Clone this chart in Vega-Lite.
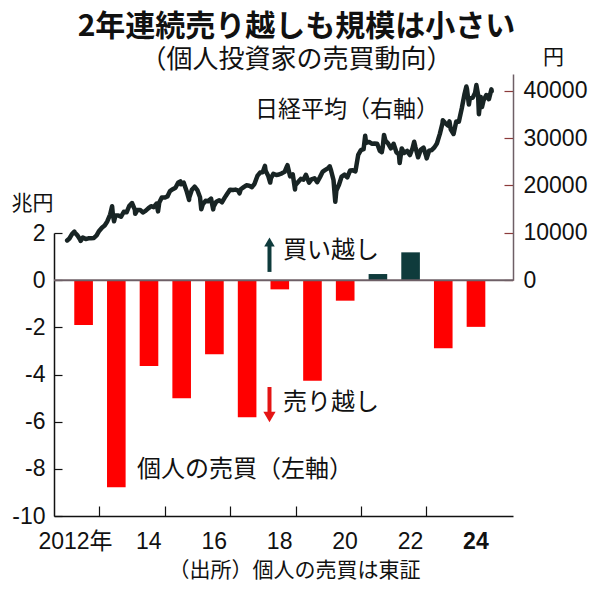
{
  "$schema": "https://vega.github.io/schema/vega-lite/v6.json",
  "width": 459,
  "height": 442,
  "autosize": {"type": "none"},
  "padding": {"left": 54, "top": 74, "right": 87, "bottom": 78},
  "background": "white",
  "config": {"view": {"stroke": null}, "font": "Noto Sans CJK JP", "axisX": {"labelOverlap": false}},
  "title": {
    "text": "2年連続売り越しも規模は小さい",
    "subtitle": "（個人投資家の売買動向）",
    "anchor": "middle",
    "frame": "group",
    "font": "Noto Sans CJK JP",
    "fontSize": 30,
    "fontWeight": "bold",
    "color": "#111111",
    "subtitleFont": "Noto Sans CJK JP",
    "subtitleFontSize": 26,
    "subtitleColor": "#111111",
    "subtitlePadding": 5,
    "offset": -27,
    "dx": 13
  },
  "datasets": {
    "flows": [
      {"year": "2012", "value": -1.90},
      {"year": "2013", "value": -8.78},
      {"year": "2014", "value": -3.64},
      {"year": "2015", "value": -5.01},
      {"year": "2016", "value": -3.14},
      {"year": "2017", "value": -5.81},
      {"year": "2018", "value": -0.39},
      {"year": "2019", "value": -4.27},
      {"year": "2020", "value": -0.87},
      {"year": "2021", "value": 0.26},
      {"year": "2022", "value": 1.18},
      {"year": "2023", "value": -2.89},
      {"year": "2024", "value": -1.98}
    ],
    "nikkei": [
      {"d": "2012-01-06", "n": 8390}, {"d": "2012-01-31", "n": 8803}, {"d": "2012-02-29", "n": 9723}, {"d": "2012-03-27", "n": 10255}, {"d": "2012-03-30", "n": 10084}, {"d": "2012-04-27", "n": 9521}, {"d": "2012-05-31", "n": 8543}, {"d": "2012-06-04", "n": 8296}, {"d": "2012-06-29", "n": 9007}, {"d": "2012-07-31", "n": 8695}, {"d": "2012-08-31", "n": 8840}, {"d": "2012-09-28", "n": 8870}, {"d": "2012-10-31", "n": 8928}, {"d": "2012-11-30", "n": 9446}, {"d": "2012-12-28", "n": 10395},
      {"d": "2013-01-31", "n": 11139}, {"d": "2013-02-28", "n": 11559}, {"d": "2013-03-29", "n": 12398}, {"d": "2013-04-30", "n": 13861}, {"d": "2013-05-22", "n": 15627}, {"d": "2013-05-31", "n": 13775}, {"d": "2013-06-13", "n": 12445}, {"d": "2013-06-28", "n": 13677}, {"d": "2013-07-31", "n": 13668}, {"d": "2013-08-30", "n": 13389}, {"d": "2013-09-30", "n": 14456}, {"d": "2013-10-31", "n": 14328}, {"d": "2013-11-29", "n": 15662}, {"d": "2013-12-30", "n": 16291},
      {"d": "2014-01-31", "n": 14915}, {"d": "2014-02-04", "n": 14009}, {"d": "2014-02-28", "n": 14841}, {"d": "2014-03-31", "n": 14828}, {"d": "2014-04-30", "n": 14304}, {"d": "2014-05-30", "n": 14632}, {"d": "2014-06-30", "n": 15162}, {"d": "2014-07-31", "n": 15621}, {"d": "2014-08-29", "n": 15425}, {"d": "2014-09-30", "n": 16174}, {"d": "2014-10-17", "n": 14532}, {"d": "2014-10-31", "n": 16414}, {"d": "2014-11-28", "n": 17460}, {"d": "2014-12-30", "n": 17451},
      {"d": "2015-01-30", "n": 17674}, {"d": "2015-02-27", "n": 18798}, {"d": "2015-03-31", "n": 19207}, {"d": "2015-04-30", "n": 19520}, {"d": "2015-05-29", "n": 20563}, {"d": "2015-06-24", "n": 20868}, {"d": "2015-06-30", "n": 20236}, {"d": "2015-07-31", "n": 20585}, {"d": "2015-08-31", "n": 18890}, {"d": "2015-09-29", "n": 16930}, {"d": "2015-09-30", "n": 17388}, {"d": "2015-10-30", "n": 19083}, {"d": "2015-11-30", "n": 19747}, {"d": "2015-12-30", "n": 19034},
      {"d": "2016-01-29", "n": 17518}, {"d": "2016-02-12", "n": 14952}, {"d": "2016-02-29", "n": 16027}, {"d": "2016-03-31", "n": 16759}, {"d": "2016-04-29", "n": 16666}, {"d": "2016-05-31", "n": 17235}, {"d": "2016-06-24", "n": 14952}, {"d": "2016-06-30", "n": 15576}, {"d": "2016-07-29", "n": 16569}, {"d": "2016-08-31", "n": 16887}, {"d": "2016-09-30", "n": 16450}, {"d": "2016-10-31", "n": 17425}, {"d": "2016-11-30", "n": 18308}, {"d": "2016-12-30", "n": 19114},
      {"d": "2017-01-31", "n": 19041}, {"d": "2017-02-28", "n": 19119}, {"d": "2017-03-31", "n": 18909}, {"d": "2017-04-14", "n": 18335}, {"d": "2017-04-28", "n": 19197}, {"d": "2017-05-31", "n": 19651}, {"d": "2017-06-30", "n": 20033}, {"d": "2017-07-31", "n": 19925}, {"d": "2017-08-31", "n": 19646}, {"d": "2017-09-29", "n": 20356}, {"d": "2017-10-31", "n": 22012}, {"d": "2017-11-30", "n": 22725}, {"d": "2017-12-29", "n": 22765},
      {"d": "2018-01-23", "n": 24124}, {"d": "2018-01-31", "n": 23098}, {"d": "2018-02-28", "n": 22068}, {"d": "2018-03-23", "n": 20617}, {"d": "2018-03-30", "n": 21454}, {"d": "2018-04-27", "n": 22468}, {"d": "2018-05-31", "n": 22202}, {"d": "2018-06-29", "n": 22305}, {"d": "2018-07-31", "n": 22554}, {"d": "2018-08-31", "n": 22865}, {"d": "2018-09-28", "n": 24120}, {"d": "2018-10-02", "n": 24270}, {"d": "2018-10-31", "n": 21920}, {"d": "2018-11-30", "n": 22351}, {"d": "2018-12-25", "n": 19155}, {"d": "2018-12-28", "n": 20015},
      {"d": "2019-01-31", "n": 20773}, {"d": "2019-02-28", "n": 21385}, {"d": "2019-03-29", "n": 21206}, {"d": "2019-04-26", "n": 22259}, {"d": "2019-05-31", "n": 20601}, {"d": "2019-06-28", "n": 21276}, {"d": "2019-07-31", "n": 21522}, {"d": "2019-08-30", "n": 20704}, {"d": "2019-09-30", "n": 21756}, {"d": "2019-10-31", "n": 22927}, {"d": "2019-11-29", "n": 23294}, {"d": "2019-12-30", "n": 23657},
      {"d": "2020-01-17", "n": 24041}, {"d": "2020-01-31", "n": 23205}, {"d": "2020-02-28", "n": 21143}, {"d": "2020-03-19", "n": 16552}, {"d": "2020-03-31", "n": 18917}, {"d": "2020-04-30", "n": 20194}, {"d": "2020-05-29", "n": 21878}, {"d": "2020-06-30", "n": 22288}, {"d": "2020-07-31", "n": 21710}, {"d": "2020-08-31", "n": 23140}, {"d": "2020-09-30", "n": 23185}, {"d": "2020-10-30", "n": 22977}, {"d": "2020-11-30", "n": 26434}, {"d": "2020-12-30", "n": 27444},
      {"d": "2021-01-29", "n": 27663}, {"d": "2021-02-16", "n": 30468}, {"d": "2021-02-26", "n": 28966}, {"d": "2021-03-31", "n": 29179}, {"d": "2021-04-30", "n": 28813}, {"d": "2021-05-31", "n": 28860}, {"d": "2021-06-30", "n": 28792}, {"d": "2021-07-30", "n": 27284}, {"d": "2021-08-20", "n": 27013}, {"d": "2021-08-31", "n": 28090}, {"d": "2021-09-14", "n": 30670}, {"d": "2021-09-30", "n": 29453}, {"d": "2021-10-29", "n": 28893}, {"d": "2021-11-30", "n": 27822}, {"d": "2021-12-30", "n": 28792},
      {"d": "2022-01-31", "n": 27002}, {"d": "2022-02-28", "n": 26527}, {"d": "2022-03-08", "n": 24717}, {"d": "2022-03-31", "n": 27821}, {"d": "2022-04-28", "n": 26848}, {"d": "2022-05-31", "n": 27280}, {"d": "2022-06-30", "n": 26393}, {"d": "2022-07-29", "n": 27802}, {"d": "2022-08-17", "n": 29222}, {"d": "2022-08-31", "n": 28092}, {"d": "2022-09-30", "n": 25937}, {"d": "2022-10-31", "n": 27587}, {"d": "2022-11-30", "n": 27969}, {"d": "2022-12-30", "n": 26095},
      {"d": "2023-01-04", "n": 25717}, {"d": "2023-01-31", "n": 27327}, {"d": "2023-02-28", "n": 27446}, {"d": "2023-03-31", "n": 28041}, {"d": "2023-04-28", "n": 28856}, {"d": "2023-05-31", "n": 30888}, {"d": "2023-06-30", "n": 33189}, {"d": "2023-07-03", "n": 33753}, {"d": "2023-07-31", "n": 33172}, {"d": "2023-08-31", "n": 32619}, {"d": "2023-09-15", "n": 33533}, {"d": "2023-09-29", "n": 31858}, {"d": "2023-10-31", "n": 30859}, {"d": "2023-11-30", "n": 33487}, {"d": "2023-12-29", "n": 33464},
      {"d": "2024-01-31", "n": 36287}, {"d": "2024-02-29", "n": 39166}, {"d": "2024-03-22", "n": 40888}, {"d": "2024-03-29", "n": 40369}, {"d": "2024-04-19", "n": 37068}, {"d": "2024-04-30", "n": 38406}, {"d": "2024-05-31", "n": 38488}, {"d": "2024-06-28", "n": 39583}, {"d": "2024-07-12", "n": 41190}, {"d": "2024-07-31", "n": 39102}, {"d": "2024-08-09", "n": 35025}, {"d": "2024-08-30", "n": 38648}, {"d": "2024-09-13", "n": 36581}, {"d": "2024-09-30", "n": 37920}, {"d": "2024-10-31", "n": 39081}, {"d": "2024-11-29", "n": 38208}, {"d": "2024-12-27", "n": 40281}, {"d": "2024-12-30", "n": 39895}
    ]
  },
  "layer": [
    {
      "layer": [
        {
          "data": {"name": "flows"},
          "mark": {"type": "bar", "width": {"band": 0.6}},
          "encoding": {
            "x": {
              "field": "year",
              "timeUnit": "utcyear",
              "type": "temporal",
              "scale": {
                "type": "utc",
                "domain": [
                  {"year": 2011, "month": 8, "date": 12, "utc": true},
                  {"year": 2025, "month": 8, "date": 25, "utc": true}
                ]
              },
              "axis": {
                "title": "（出所）個人の売買は東証",
                "titleFont": "Noto Sans CJK JP",
                "titleFontSize": 21,
                "titleFontWeight": "normal",
                "titleColor": "#111111",
                "titlePadding": 6,
                "titleX": 240,
                "titleAlign": "center",
                "values": [
                  {"year": 2012, "month": 7, "date": 1, "utc": true},
                  {"year": 2013, "month": 7, "date": 1, "utc": true},
                  {"year": 2014, "month": 7, "date": 1, "utc": true},
                  {"year": 2015, "month": 7, "date": 1, "utc": true},
                  {"year": 2016, "month": 7, "date": 1, "utc": true},
                  {"year": 2017, "month": 7, "date": 1, "utc": true},
                  {"year": 2018, "month": 7, "date": 1, "utc": true},
                  {"year": 2019, "month": 7, "date": 1, "utc": true},
                  {"year": 2020, "month": 7, "date": 1, "utc": true},
                  {"year": 2021, "month": 7, "date": 1, "utc": true},
                  {"year": 2022, "month": 7, "date": 1, "utc": true},
                  {"year": 2023, "month": 7, "date": 1, "utc": true},
                  {"year": 2024, "month": 7, "date": 1, "utc": true}
                ],
                "labelExpr": "utcyear(datum.value) % 2 == 1 ? '' : (utcyear(datum.value) == 2012 ? '2012年' : '' + (utcyear(datum.value) % 100))",
                "labelFont": "Liberation Sans, Noto Sans CJK JP",
                "labelFontSize": 23,
                "labelColor": "#111111",
                "labelPadding": 24,
                "labelOverlap": false,
                "labelFlush": false,
                "labelBound": false,
                "tickOffset": 16.4,
                "labelOffset": {"condition": {"test": "utcyear(datum.value) == 2012", "value": -24.4}, "value": -16.4},
                "labelFontWeight": {"condition": {"test": "utcyear(datum.value) == 2024", "value": "bold"}, "value": "normal"},
                "tickOpacity": {"condition": {"test": "utcyear(datum.value) == 2024", "value": 0}, "value": 1},
                "tickSize": -10,
                "tickColor": "#111111",
                "tickWidth": 1.2,
                "domainColor": "#111111",
                "domainWidth": 1.5,
                "grid": false
              }
            },
            "y": {
              "field": "value",
              "type": "quantitative",
              "scale": {"domain": [-10, 2], "range": [442, 159], "nice": false, "zero": false},
              "axis": {
                "title": "兆円",
                "titleFont": "Noto Sans CJK JP",
                "titleFontSize": 21,
                "titleFontWeight": "normal",
                "titleColor": "#111111",
                "titleAngle": 0,
                "titleX": -22,
                "titleY": 129,
                "titleAlign": "center",
                "titleBaseline": "middle",
                "values": [-10, -8, -6, -4, -2, 0, 2],
                "labelExpr": "'' + datum.value",
                "labelFont": "Liberation Sans",
                "labelFontSize": 23,
                "labelColor": "#111111",
                "labelPadding": 17,
                "tickSize": -8,
                "tickColor": "#111111",
                "tickWidth": 1.2,
                "domainColor": "#111111",
                "domainWidth": 1.5,
                "grid": false
              }
            },
            "color": {
              "condition": {"test": "datum.value > 0", "value": "#0f3b3c"},
              "value": "#ff0000"
            }
          }
        },
        {
          "data": {"values": [{"v": 0}]},
          "mark": {"type": "rule", "color": "#6e5f66", "strokeWidth": 2},
          "encoding": {"y": {"field": "v", "type": "quantitative"}}
        },
        {
          "data": {"values": [{}]},
          "mark": {"type": "text", "align": "left", "baseline": "middle", "font": "Noto Sans CJK JP", "fontSize": 23, "color": "#111111"},
          "encoding": {
            "x": {"datum": {"year": 2017, "month": 10, "date": 4, "utc": true}, "type": "temporal"},
            "y": {"datum": 7.22, "type": "quantitative"},
            "text": {"value": "日経平均（右軸）"}
          }
        },
        {
          "data": {"values": [{}]},
          "mark": {"type": "text", "align": "left", "baseline": "middle", "font": "Noto Sans CJK JP", "fontSize": 24, "color": "#111111"},
          "encoding": {
            "x": {"datum": {"year": 2018, "month": 8, "date": 13, "utc": true}, "type": "temporal"},
            "y": {"datum": 1.24, "type": "quantitative"},
            "text": {"value": "買い越し"}
          }
        },
        {
          "data": {"values": [{}]},
          "mark": {"type": "text", "align": "left", "baseline": "middle", "font": "Noto Sans CJK JP", "fontSize": 24, "color": "#111111"},
          "encoding": {
            "x": {"datum": {"year": 2018, "month": 8, "date": 13, "utc": true}, "type": "temporal"},
            "y": {"datum": -5.21, "type": "quantitative"},
            "text": {"value": "売り越し"}
          }
        },
        {
          "data": {"values": [{}]},
          "mark": {"type": "text", "align": "left", "baseline": "middle", "font": "Noto Sans CJK JP", "fontSize": 24, "color": "#111111"},
          "encoding": {
            "x": {"datum": {"year": 2014, "month": 2, "date": 25, "utc": true}, "type": "temporal"},
            "y": {"datum": -8.05, "type": "quantitative"},
            "text": {"value": "個人の売買（左軸）"}
          }
        },
        {
          "data": {"values": [{}]},
          "mark": {"type": "rule", "color": "#0f3b3c", "strokeWidth": 4},
          "encoding": {
            "x": {"datum": {"year": 2018, "month": 3, "date": 15, "utc": true}, "type": "temporal"},
            "y": {"datum": 0.35, "type": "quantitative"},
            "y2": {"datum": 1.45}
          }
        },
        {
          "data": {"values": [{}]},
          "mark": {"type": "point", "shape": "triangle-up", "filled": true, "color": "#0f3b3c", "size": 110, "opacity": 1},
          "encoding": {
            "x": {"datum": {"year": 2018, "month": 3, "date": 15, "utc": true}, "type": "temporal"},
            "y": {"datum": 1.62, "type": "quantitative"}
          }
        },
        {
          "data": {"values": [{}]},
          "mark": {"type": "rule", "color": "#e41414", "strokeWidth": 4},
          "encoding": {
            "x": {"datum": {"year": 2018, "month": 3, "date": 15, "utc": true}, "type": "temporal"},
            "y": {"datum": -4.53, "type": "quantitative"},
            "y2": {"datum": -5.6}
          }
        },
        {
          "data": {"values": [{}]},
          "mark": {"type": "point", "shape": "triangle-down", "filled": true, "color": "#e41414", "size": 150, "opacity": 1},
          "encoding": {
            "x": {"datum": {"year": 2018, "month": 3, "date": 15, "utc": true}, "type": "temporal"},
            "y": {"datum": -5.8, "type": "quantitative"}
          }
        }
      ]
    },
    {
      "data": {"name": "nikkei"},
      "mark": {"type": "line", "color": "#182424", "strokeWidth": 4.5, "strokeJoin": "round", "strokeCap": "round"},
      "encoding": {
        "x": {"field": "d", "type": "temporal"},
        "y": {
          "field": "n",
          "type": "quantitative",
          "scale": {"domain": [0, 43525], "range": [206.2, 0], "nice": false, "zero": false},
          "axis": {
            "orient": "right",
            "title": "円",
            "titleFont": "Noto Sans CJK JP",
            "titleFontSize": 21,
            "titleFontWeight": "normal",
            "titleColor": "#111111",
            "titleAngle": 0,
            "titleX": 40,
            "titleY": -17,
            "titleAlign": "center",
            "titleBaseline": "middle",
            "values": [0, 10000, 20000, 30000, 40000],
            "format": "d",
            "labelFont": "Liberation Sans",
            "labelFontSize": 23,
            "labelColor": "#111111",
            "labelPadding": 19,
            "tickSize": -9,
            "tickColor": "#8b3a3a",
            "tickWidth": 1.2,
            "domainColor": "#6e5f66",
            "domainWidth": 1.5,
            "grid": false
          }
        }
      }
    }
  ],
  "resolve": {"scale": {"y": "independent"}}
}
